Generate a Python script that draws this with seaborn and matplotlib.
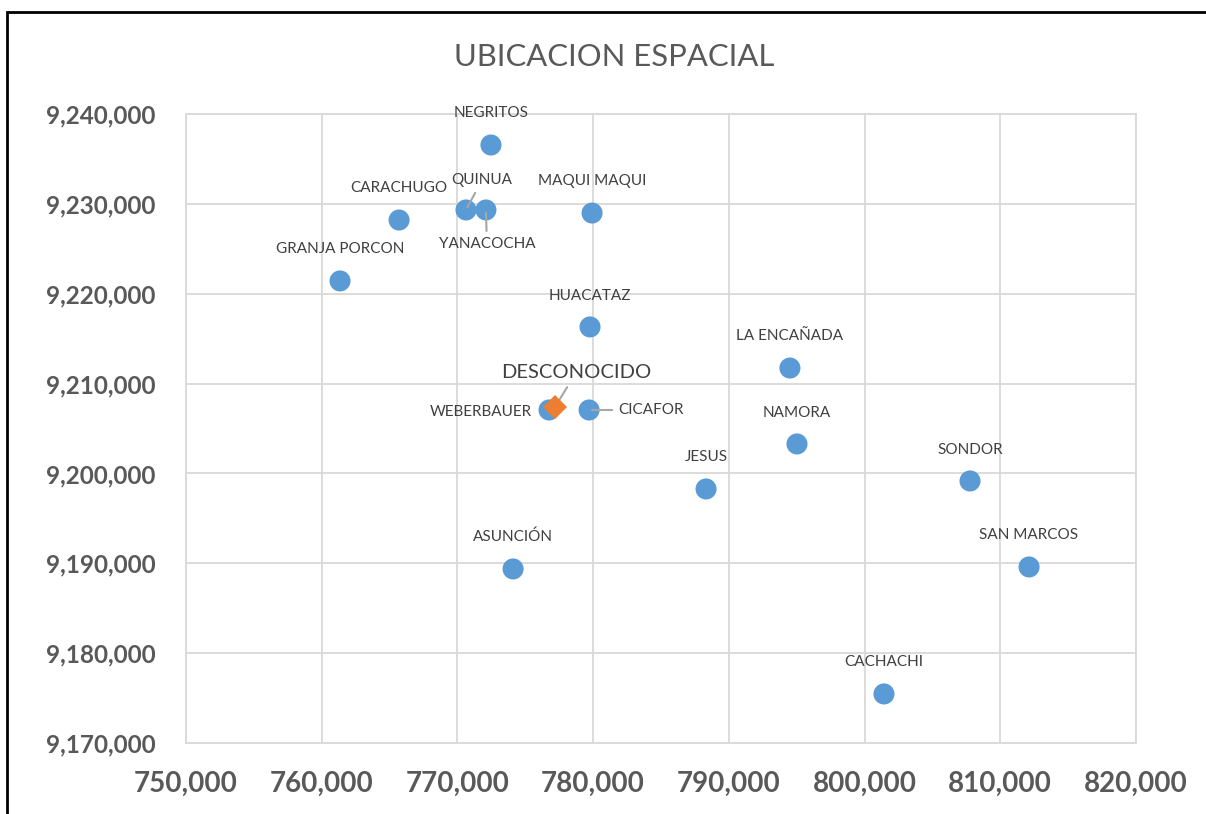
import matplotlib
matplotlib.use('Agg')
import pandas as pd
import seaborn as sns
import matplotlib.pyplot as plt
from matplotlib.ticker import MultipleLocator, FuncFormatter
from matplotlib.patches import Rectangle

# station coordinates (UTM east / north)
names = ['NEGRITOS', 'CARACHUGO', 'QUINUA', 'YANACOCHA', 'MAQUI MAQUI',
         'GRANJA PORCON', 'HUACATAZ', 'LA ENCAÑADA', 'WEBERBAUER', 'CICAFOR',
         'NAMORA', 'JESUS', 'SONDOR', 'ASUNCIÓN', 'SAN MARCOS', 'CACHACHI']
este = [772470, 765700, 770630, 772100, 779920,
        761350, 779770, 794500, 776750, 779700,
        795020, 788320, 807770, 774100, 812120, 801430]
norte = [9236550, 9228200, 9229320, 9229320, 9228980,
         9221420, 9216300, 9211730, 9207060, 9207060,
         9203280, 9198270, 9199160, 9189370, 9189590, 9175460]

unknown_name = 'DESCONOCIDO'
unknown_este = [777190]
unknown_norte = [9207390]

# label offsets in points (dx, dy), alignment, leader line
label_offsets = {
    'NEGRITOS': (0, 23, 'center', False),
    'CARACHUGO': (0, 23, 'center', False),
    'QUINUA': (11.5, 21.5, 'center', True),
    'YANACOCHA': (0.7, -24.5, 'center', True),
    'MAQUI MAQUI': (0, 23, 'center', False),
    'GRANJA PORCON': (0, 23, 'center', False),
    'HUACATAZ': (0, 22.5, 'center', False),
    'LA ENCAÑADA': (0, 23, 'center', False),
    'WEBERBAUER': (-12.5, -1.5, 'right', False),
    'CICAFOR': (21, 0, 'left', True),
    'NAMORA': (0, 22.5, 'center', False),
    'JESUS': (0, 23, 'center', False),
    'SONDOR': (0, 22.5, 'center', False),
    'ASUNCIÓN': (0, 23, 'center', False),
    'SAN MARCOS': (0, 23, 'center', False),
    'CACHACHI': (0, 23, 'center', False),
}

sns.set_style('white')
plt.rcParams['font.family'] = ['Lato', 'DejaVu Sans']

df = pd.DataFrame({'nombre': names, 'este': este, 'norte': norte})
df_u = pd.DataFrame({'nombre': [unknown_name], 'este': unknown_este, 'norte': unknown_norte})

fig = plt.figure(figsize=(12.06, 8.14), dpi=100)
ax = fig.add_axes([186 / 1206, 1 - 743 / 814, 950 / 1206, 629 / 814])

sns.scatterplot(data=df, x='este', y='norte', ax=ax, color='#5B9BD5', s=230,
                edgecolor='none', zorder=3)
sns.scatterplot(data=df_u, x='este', y='norte', ax=ax, color='#ED7D31', marker='D',
                s=150, edgecolor='none', zorder=4)

for n, xv, yv in zip(names, este, norte):
    dx, dy, ha, line = label_offsets[n]
    ax.annotate(n, (xv, yv), xytext=(dx, dy), textcoords='offset points',
                ha=ha, va='center', fontsize=11, color='#404040',
                arrowprops=dict(arrowstyle='-', color='#a6a6a6', lw=1.5,
                                shrinkA=2, shrinkB=2) if line else None)

ax.annotate(unknown_name, (unknown_este[0], unknown_norte[0]), xytext=(15, 24.5),
            textcoords='offset points', ha='center', va='center', fontsize=14.5,
            color='#404040',
            arrowprops=dict(arrowstyle='-', color='#a6a6a6', lw=1.5, shrinkA=2, shrinkB=0))

ax.set_xlim(750000, 820000)
ax.set_ylim(9170000, 9240000)
ax.xaxis.set_major_locator(MultipleLocator(10000))
ax.yaxis.set_major_locator(MultipleLocator(10000))
fmt = FuncFormatter(lambda v, p: f'{v:,.0f}')
ax.xaxis.set_major_formatter(fmt)
ax.yaxis.set_major_formatter(fmt)
ax.tick_params(axis='both', length=0, labelcolor='#595959')
ax.tick_params(axis='y', pad=22, labelsize=17.5)
ax.tick_params(axis='x', pad=20, labelsize=20)
for lbl in ax.get_xticklabels() + ax.get_yticklabels():
    lbl.set_fontweight('bold')
ax.grid(True, color='#d9d9d9', lw=1.3)
ax.set_axisbelow(True)
for sp in ax.spines.values():
    sp.set_color('#d9d9d9')
    sp.set_linewidth(1.3)
ax.set_xlabel('')
ax.set_ylabel('')

fig.text(614 / 1206, 1 - 57 / 814, 'UBICACION ESPACIAL', ha='center', va='center',
         fontsize=22.3, color='#595959')

# outer chart frame
fig.patches.append(Rectangle((7 / 1206, -0.1), 1.1, 0.1 + (1 - 12 / 814),
                             transform=fig.transFigure, fill=False,
                             edgecolor='black', lw=2, zorder=0))

plt.savefig('out.png', dpi=100)
plt.clf()
